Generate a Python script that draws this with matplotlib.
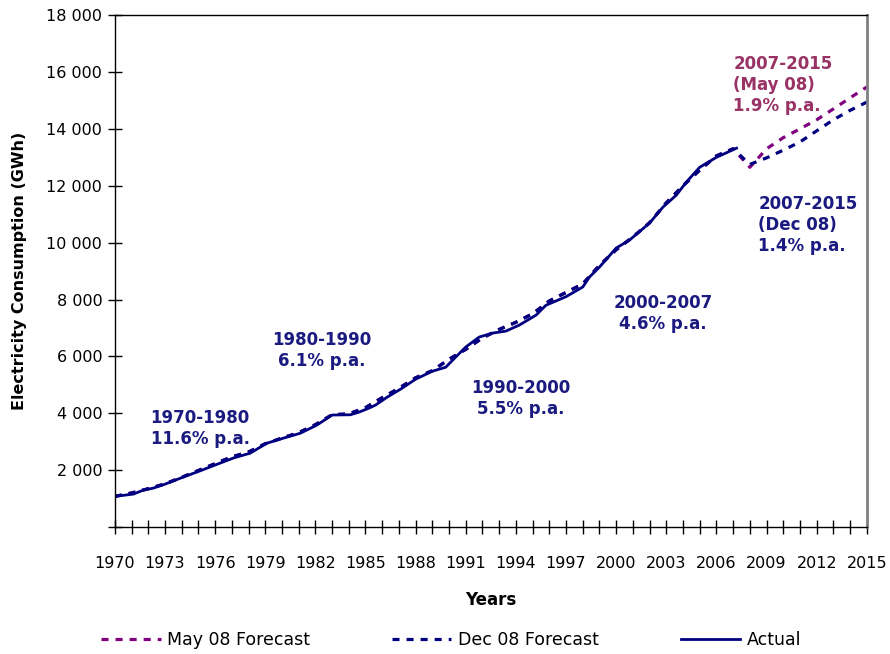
import numpy as np
import matplotlib.pyplot as plt
from matplotlib.ticker import FuncFormatter, MultipleLocator, FixedLocator

# Actual electricity consumption (GWh)
actual_years = [1970.0, 1971.1, 1971.7, 1972.3, 1973.0, 1974.1, 1975.2, 1976.3, 1977.1,
                1978.1, 1979.1, 1980.1, 1981.1, 1982.1, 1983.0, 1984.1, 1984.6, 1985.2,
                1985.6, 1986.3, 1987.1, 1988.0, 1989.0, 1989.8, 1990.4, 1991.0, 1991.8,
                1992.6, 1993.4, 1994.2, 1995.2, 1995.8, 1996.4, 1997.0, 1998.0, 1998.4,
                1999.0, 2000.0, 2000.8, 2002.0, 2002.8, 2003.6, 2004.2, 2005.0, 2006.0,
                2007.2]
actual = [1080, 1160, 1300, 1370, 1510, 1760, 2000, 2250, 2430,
          2600, 2950, 3130, 3300, 3590, 3940, 3950, 4040, 4180,
          4290, 4570, 4850, 5200, 5480, 5620, 5980, 6330, 6680,
          6820, 6890, 7100, 7450, 7800, 7950, 8100, 8440, 8790,
          9140, 9810, 10090, 10690, 11250, 11670, 12130, 12650, 13000,
          13320]

# Annual history used by both forecasts, then the two forecast paths
hist_years = list(range(1970, 2008))
hist = [1080, 1200, 1350, 1520, 1750, 1990, 2230, 2470, 2640, 2930,
        3130, 3320, 3600, 3950, 3980, 4200, 4550, 4880, 5250, 5500,
        5900, 6250, 6650, 6950, 7200, 7500, 7950, 8250, 8550, 9200,
        9750, 10200, 10700, 11400, 12000, 12550, 13050, 13300]
fc_years = list(range(2008, 2016))
may08_fc = [12650, 13300, 13690, 14000, 14320, 14700, 15090, 15470]
dec08_fc = [12750, 12980, 13250, 13540, 13930, 14320, 14650, 14940]

tick_years = list(range(1970, 2016, 3))

navy = '#000080'
purple = '#800080'

fig = plt.figure(figsize=(8.9, 6.54), dpi=100)
ax = fig.add_axes([0.129, 0.194, 0.845, 0.783])

dash = (0, (2.2, 2.2))
ax.plot(hist_years + fc_years, hist + may08_fc, color=purple, lw=2.3, ls=dash,
        label='May 08 Forecast')
ax.plot(hist_years + fc_years, hist + dec08_fc, color=navy, lw=2.3, ls=dash,
        label='Dec 08 Forecast')
ax.plot(actual_years, actual, color=navy, lw=2.0, solid_joinstyle='round',
        label='Actual')

ax.set_xlim(1970, 2015)
ax.set_ylim(0, 18000)
ax.xaxis.set_major_locator(FixedLocator(tick_years))
ax.xaxis.set_minor_locator(MultipleLocator(1))
ax.yaxis.set_major_locator(MultipleLocator(2000))
ax.yaxis.set_major_formatter(FuncFormatter(
    lambda v, p: '' if v == 0 else f'{int(v):,}'.replace(',', ' ')))
ax.tick_params(which='both', direction='inout', length=10, width=1, labelsize=11.5)
ax.tick_params(axis='x', which='major', pad=16)
ax.tick_params(axis='y', pad=4)

for s in ['left', 'bottom', 'top']:
    ax.spines[s].set_color('black')
    ax.spines[s].set_linewidth(1)
ax.spines['right'].set_color('#808080')
ax.spines['right'].set_linewidth(2)

ax.set_xlabel('Years', fontsize=12, fontweight='bold', labelpad=14)
ax.set_ylabel('Electricity Consumption (GWh)', fontsize=11.5, fontweight='bold',
              labelpad=14)

# Growth rate notes
note = dict(fontsize=12, fontweight='bold', color='#1a1a80', va='center')
ax.text(1975.1, 3480, '1970-1980\n11.6% p.a.', ha='center', multialignment='center', **note)
ax.text(1982.4, 6220, '1980-1990\n6.1% p.a.', ha='center', multialignment='center', **note)
ax.text(1994.3, 4530, '1990-2000\n5.5% p.a.', ha='center', multialignment='center', **note)
ax.text(2002.8, 7520, '2000-2007\n4.6% p.a.', ha='center', multialignment='center', **note)
ax.text(2007.0, 15540, '2007-2015\n(May 08)\n1.9% p.a.', ha='left',
        **{**note, 'color': '#993366'})
ax.text(2008.5, 10615, '2007-2015\n(Dec 08)\n1.4% p.a.', ha='left', **note)

fig.legend(loc='center', bbox_to_anchor=(0.507, 0.021), ncol=3, frameon=False,
           fontsize=12.5, handlelength=3.4, handletextpad=0.4, columnspacing=4.7)

fig.savefig('out.png', dpi=100)
